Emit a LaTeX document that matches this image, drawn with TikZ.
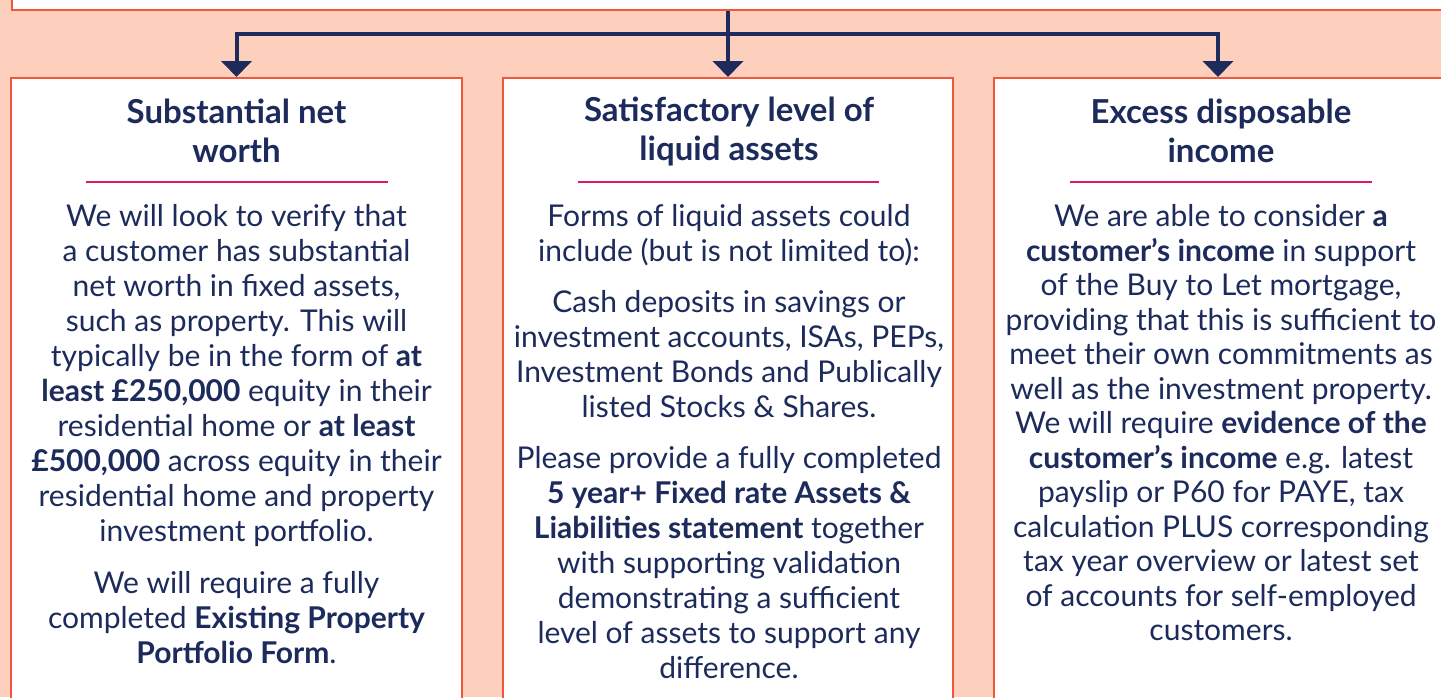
\documentclass[tikz,border=0pt]{standalone}
\usepackage{fontspec}
\setmainfont{Lato}
\usetikzlibrary{arrows.meta,positioning}
\definecolor{navy}{HTML}{1C2B5B}
\definecolor{peach}{HTML}{FCD0BC}
\definecolor{edge}{HTML}{F2563B}
\definecolor{rule}{HTML}{E0166C}

\begin{document}
\begin{tikzpicture}[
  x=1pt, y=-1pt,
  card/.style={
    draw=edge, line width=2pt, fill=white,
    inner sep=0pt
  },
  head/.style={text=navy, align=center,
    font=\fontsize{33}{39}\selectfont\bfseries},
  body/.style={text=navy, align=center,
    font=\fontsize{30}{35}\selectfont},
  link/.style={draw=navy, line width=4pt,
    -{Triangle[width=30pt,length=16pt]}},
  bar/.style={draw=rule, line width=2.5pt}
]
  \useasboundingbox[fill=peach] (0,0) rectangle (1441,697);
  \clip (0,0) rectangle (1441,697);

  % boxes
  \node[card, minimum width=1449pt, minimum height=40pt] (summary) at (736,-10){};
  \node[card, minimum width=451pt, minimum height=660pt] (worth) at (236.5,408){};
  \node[card, minimum width=450pt, minimum height=660pt] (liquid) at (728,408){};
  \node[card, minimum width=460pt, minimum height=660pt] (income) at (1224,408){};

  % connectors
  \coordinate (split) at (729,34);
  \draw[link] (summary.south -| liquid.north) -- (liquid.north);
  \draw[link] (split) -| (worth.north);
  \draw[link] (split) -| ([xshift=-6pt]income.north);

  % titles
  \node[head] (worth-title) at (236.5,131){Substantial net\\worth};
  \node[head] (liquid-title) at (729,131){Satisfactory level of\\liquid assets};
  \node[head] (income-title) at (1221,131){Excess disposable\\income};
  \draw[bar] (86,182) -- (388,182);
  \draw[bar] (578,182) -- (879,182);
  \draw[bar] (1070,182) -- (1372,182);

  % texts
  \node[body, anchor=north] (worth-text) at (236.5,201){%
    We will look to verify that\\
    a customer has substantial\\
    net worth in fixed assets,\\
    such as property. This will\\
    typically be in the form of \textbf{at}\\
    \textbf{least £250,000} equity in their\\
    residential home or \textbf{at least}\\
    \textbf{£500,000} across equity in their\\
    residential home and property\\
    investment portfolio.\\[17pt]
    We will require a fully\\
    completed \textbf{Existing Property}\\
    \textbf{Portfolio Form}.};
  \node[body, anchor=north] (liquid-text) at (729,201){%
    Forms of liquid assets could\\
    include (but is not limited to):\\[16pt]
    Cash deposits in savings or\\
    investment accounts, ISAs, PEPs,\\
    Investment Bonds and Publically\\
    listed Stocks \& Shares.\\[16pt]
    Please provide a fully completed\\
    \textbf{5 year+ Fixed rate Assets \&}\\
    \textbf{Liabilities statement} together\\
    with supporting validation\\
    demonstrating a sufficient\\
    level of assets to support any\\
    difference.};
  \node[body, anchor=north, font=\fontsize{30}{34.5}\selectfont] (income-text) at (1221,201){%
    We are able to consider \textbf{a}\\
    \textbf{customer’s income} in support\\
    of the Buy to Let mortgage,\\
    providing that this is sufficient to\\
    meet their own commitments as\\
    well as the investment property.\\
    We will require \textbf{evidence of the}\\
    \textbf{customer’s income} e.g. latest\\
    payslip or P60 for PAYE, tax\\
    calculation PLUS corresponding\\
    tax year overview or latest set\\
    of accounts for self-employed\\
    customers.};
\end{tikzpicture}
\end{document}
